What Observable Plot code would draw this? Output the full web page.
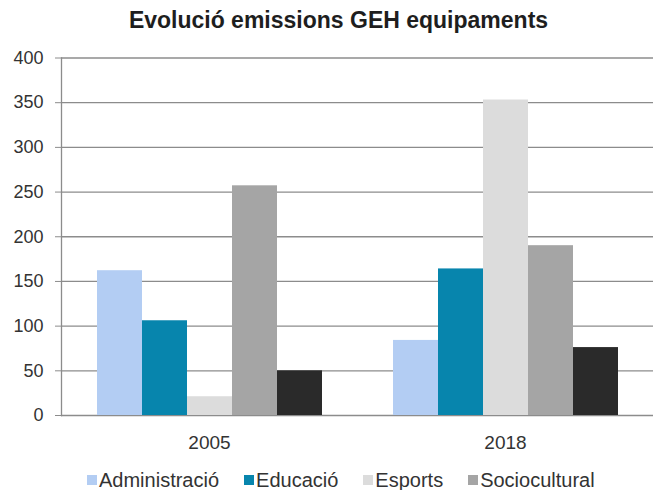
<!DOCTYPE html>
<html>
<head>
<meta charset="utf-8">
<script src="https://cdn.jsdelivr.net/npm/d3@7"></script>
<script src="https://cdn.jsdelivr.net/npm/@observablehq/plot@0.6"></script>
<style>
  html, body { margin: 0; padding: 0; background: #fff; }
  #wrap { position: relative; width: 653px; height: 490px; overflow: hidden; font-family: "Liberation Sans", Arial, sans-serif; }
  #title { position: absolute; top: 8.5px; left: 0; width: 653px; box-sizing: border-box; padding-left: 24px;
           text-align: center; font-size: 23px; line-height: 23px; font-weight: bold; color: #1e1e1e; }
  #chart { position: absolute; top: 0; left: 0; }
  #legend { position: absolute; top: 466px; left: 87px; width: 600px; }
  #legend .lg-swatches { font-family: "Liberation Sans", Arial, sans-serif; font-size: 20px; color: #333; margin: 0; min-height: 28px; }
  #legend .lg-swatch { margin-right: 25px; }
  #legend .lg-swatch > svg { margin-right: 2px; }
</style>
</head>
<body>
<div id="wrap">
  <div id="chart"></div>
  <div id="title">Evolució emissions GEH equipaments</div>
  <div id="legend"></div>
</div>
<script>
const years = ["2005", "2018"];
const series = ["Administració", "Educació", "Esports", "Sociocultural", "Altres"];
const values2005 = [162, 106, 21, 257, 50];
const values2018 = [84, 164, 353, 190, 76];
const seriesColors = ["#b3cdf3", "#0785ad", "#dcdcdc", "#a5a5a5", "#2a2a2a"];
const legendSeries = ["Administració", "Educació", "Esports", "Sociocultural"];
const yTicks = [0, 50, 100, 150, 200, 250, 300, 350, 400];

const rows = [];
series.forEach((s, i) => {
  rows.push({year: years[0], serie: s, value: values2005[i]});
  rows.push({year: years[1], serie: s, value: values2018[i]});
});

const grid = "#8c8c8c";

const chart = Plot.plot({
  width: 653,
  height: 460,
  marginTop: 57.5,
  marginBottom: 45,
  marginLeft: 61,
  marginRight: 0,
  style: {fontFamily: "'Liberation Sans', Arial, sans-serif", fontSize: "18px", color: "#333", background: "transparent"},
  fx: {domain: years, padding: 0, label: null},
  x: {domain: series, paddingInner: 0, paddingOuter: 0.75, axis: null},
  y: {domain: [0, 400], label: null},
  color: {domain: series, range: seriesColors},
  marks: [
    Plot.ruleY(yTicks, {stroke: grid, strokeWidth: 1.3}),
    Plot.barY(rows, {fx: "year", x: "serie", y: "value", fill: "serie"}),
    Plot.frame({anchor: "left", facetAnchor: "left", stroke: grid, strokeWidth: 1.3}),
    Plot.axisY({ticks: yTicks, tickSize: 6, tickPadding: 12, stroke: grid, fill: "#333", fontSize: 18, label: null}),
    Plot.axisFx({anchor: "bottom", tickSize: 0, tickPadding: 20, fill: "#333", fontSize: 19, label: null})
  ]
});
document.getElementById("chart").appendChild(chart);

const legend = Plot.legend({
  legend: "swatches",
  color: {type: "ordinal", domain: legendSeries, range: seriesColors.slice(0, 4)},
  swatchSize: 10,
  className: "lg"
});
document.getElementById("legend").appendChild(legend);
</script>
</body>
</html>
